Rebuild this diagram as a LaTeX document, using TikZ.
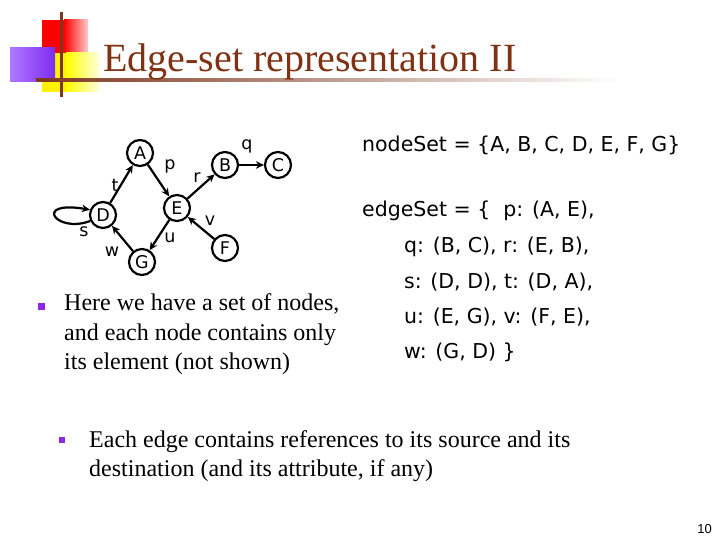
\documentclass[tikz,border=0pt]{standalone}
\usepackage{fontspec}
\setmainfont{Liberation Serif}
\newfontfamily\vsans{DejaVu Sans}
\newfontfamily\lsans{Liberation Sans}
\usetikzlibrary{arrows.meta}
\definecolor{titlebrown}{RGB}{128,50,20}
\definecolor{linebrown}{RGB}{125,55,30}
\definecolor{bulletpurple}{RGB}{140,40,230}
\definecolor{purpleL}{RGB}{175,120,255}
\definecolor{purpleR}{RGB}{125,45,240}
\tikzset{
  gnode/.style={circle, draw, line width=2.2pt, minimum size=26pt, inner sep=0pt, font=\vsans\fontsize{17.5}{17.5}\selectfont},
  garrow/.style={-{Stealth[length=8pt,width=7.5pt]}, line width=2.2pt},
  elabel/.style={font=\vsans\fontsize{17.5}{17.5}\selectfont, inner sep=0pt},
  settext/.style={anchor=base west, inner sep=0pt, font=\vsans\fontsize{20.5}{20.5}\selectfont},
  bodytext/.style={anchor=base west, inner sep=0pt, font=\fontsize{24}{24}\selectfont},
  bulletbox/.style={fill=bulletpurple, minimum size=7pt, inner sep=0pt}
}
\begin{document}
\begin{tikzpicture}[x=1pt,y=-1pt]
\useasboundingbox (0,0) rectangle (720,540);
\fill[white] (0,0) rectangle (720,540);
% title decoration
\fill[red] (42,20) rectangle (64,53);
\shade[left color=red, right color=red!20] (64,20) rectangle (88,53);
\fill[yellow] (42,53) rectangle (66,92);
\shade[left color=yellow, right color=yellow!10] (66,53) rectangle (100,92);
\shade[left color=purpleL, right color=purpleR] (10,48) rectangle (55,82);
\draw[linebrown, line width=3pt] (61,12) -- (61,97);
\shade[left color=linebrown, right color=white] (36,78.5) rectangle (620,81.5);
\node[anchor=base west, inner sep=0pt, font=\fontsize{40}{40}\selectfont, text=titlebrown] (title) at (103,72) {Edge-set representation II};
% graph
\node[gnode] (A) at (140,153) {A};
\node[gnode] (B) at (225,165) {B};
\node[gnode] (C) at (278,165) {C};
\node[gnode] (D) at (103,215) {D};
\node[gnode] (E) at (177,208) {E};
\node[gnode] (F) at (225,248) {F};
\node[gnode] (G) at (142,262) {G};
\draw[garrow] (D) -- (A);
\draw[garrow] (A) -- (E);
\draw[garrow] (E) -- (B);
\draw[garrow] (B) -- (C);
\draw[garrow] (F) -- (E);
\draw[garrow] (E) -- (G);
\draw[garrow] (G) -- (D);
\draw[garrow] (D.205) .. controls (56,234) and (32,200) .. (D.158);
\node[elabel] (lp) at (170,166) {p};
\node[elabel] (lq) at (247,146) {q};
\node[elabel] (lr) at (197,178) {r};
\node[elabel] (lt) at (115,185) {t};
\node[elabel] (lv) at (210,221) {v};
\node[elabel] (lu) at (170,238) {u};
\node[elabel] (ls) at (84,232) {s};
\node[elabel] (lw) at (112,252) {w};
% set text
\node[settext] (ns) at (362,152) {nodeSet = \{A, B, C, D, E, F, G\}};
\node[settext] (es) at (362,217) {edgeSet = \{\ \ p: (A, E),};
\node[settext] (e2) at (404,252) {q: (B, C), r: (E, B),};
\node[settext] (e3) at (404,288) {s: (D, D), t: (D, A),};
\node[settext] (e4) at (404,323) {u: (E, G), v: (F, E),};
\node[settext] (e5) at (404,358) {w: (G, D) \}};
% bullets
\node[bulletbox] (b1) at (41.5,306.5) {};
\node[bodytext] (t1) at (64,310) {Here we have a set of nodes,};
\node[bodytext] (t2) at (64,340) {and each node contains only};
\node[bodytext] (t3) at (64,369) {its element (not shown)};
\node[bulletbox, minimum size=6.5pt] (b2) at (62,440) {};
\node[bodytext] (t4) at (89,447) {Each edge contains references to its source and its};
\node[bodytext] (t5) at (89,476) {destination (and its attribute, if any)};
\node[anchor=base east, inner sep=0pt, font=\lsans\fontsize{13}{13}\selectfont] (pg) at (712,533) {10};
\end{tikzpicture}
\end{document}
